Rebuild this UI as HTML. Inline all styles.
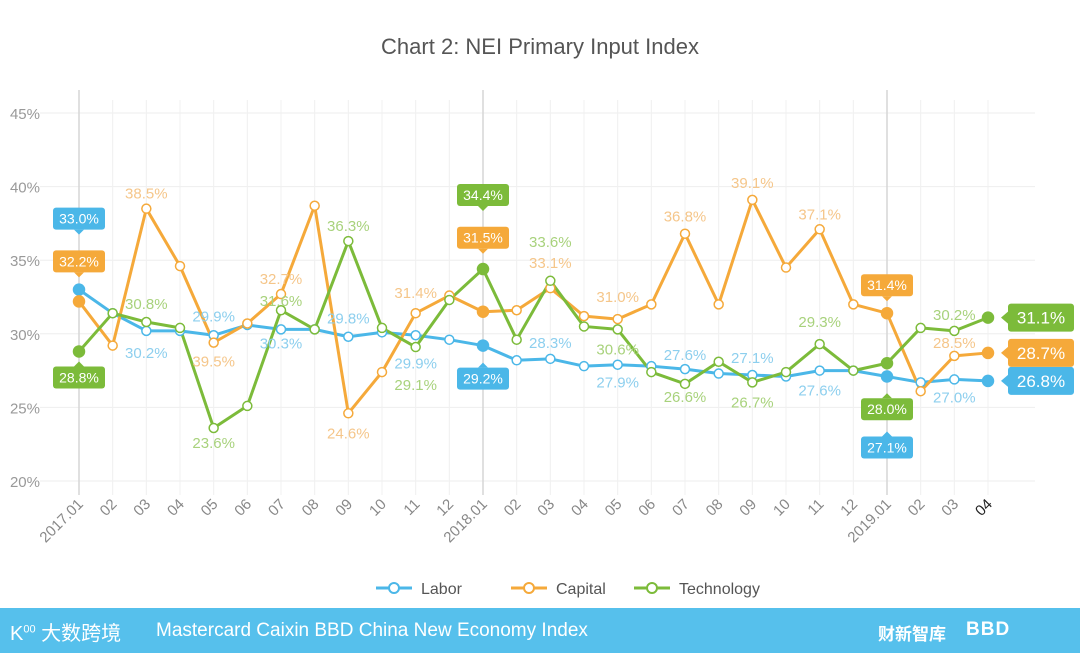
<!DOCTYPE html>
<html><head><meta charset="utf-8"><style>
body{margin:0;width:1080px;height:653px;overflow:hidden;background:#fff;font-family:"Liberation Sans","Noto Sans CJK SC",sans-serif}
#footer{position:absolute;left:0;top:608px;width:1080px;height:45px;background:#56c0ec}
</style></head><body>
<svg id="chart" width="1080" height="608" style="position:absolute;left:0;top:0">
<text x="540" y="54" text-anchor="middle" font-size="22" fill="#555">Chart 2: NEI Primary Input Index</text>
<g id="grid"></g><g id="lines"></g><g id="labels"></g><g id="legend"></g>
</svg>
<div id="footer">
<span style="position:absolute;left:10px;top:9px;color:#fff;font-size:20px">K<sup style="font-size:11px">00</sup> 大数跨境</span>
<span style="position:absolute;left:156px;top:12px;color:#fff;font-size:19px">Mastercard Caixin BBD China New Economy Index</span>
<span style="position:absolute;left:878px;top:12px;color:#fff;font-size:17px;font-weight:bold">财新智库</span>
<span style="position:absolute;left:966px;top:11px;color:#fff;font-size:19px;font-weight:bold;letter-spacing:1px">BBD</span>
</div>
<script>
const categories=["2017.01","02","03","04","05","06","07","08","09","10","11","12","2018.01","02","03","04","05","06","07","08","09","10","11","12","2019.01","02","03","04"];
const yTicks=[20,25,30,35,40,45];
const labor=[33.0,31.4,30.2,30.2,29.9,30.6,30.3,30.3,29.8,30.1,29.9,29.6,29.2,28.2,28.3,27.8,27.9,27.8,27.6,27.3,27.2,27.1,27.5,27.5,27.1,26.7,26.9,26.8];
const capital=[32.2,29.2,38.5,34.6,29.4,30.7,32.7,38.7,24.6,27.4,31.4,32.6,31.5,31.6,33.1,31.2,31.0,32.0,36.8,32.0,39.1,34.5,37.1,32.0,31.4,26.1,28.5,28.7];
const technology=[28.8,31.4,30.8,30.4,23.6,25.1,31.6,30.3,36.3,30.4,29.1,32.3,34.4,29.6,33.6,30.5,30.3,27.4,26.6,28.1,26.7,27.4,29.3,27.5,28.0,30.4,30.2,31.1];
const laborLabels=[[2,"30.2%",22],[4,"29.9%",-19],[6,"30.3%",14],[8,"29.8%",-18],[10,"29.9%",28],[14,"28.3%",-16],[16,"27.9%",18],[18,"27.6%",-14],[20,"27.1%",-17],[22,"27.6%",20],[26,"27.0%",18]];
const capitalLabels=[[2,"38.5%",-15],[4,"39.5%",19],[6,"32.7%",-15],[8,"24.6%",20],[10,"31.4%",-20],[14,"33.1%",-25],[16,"31.0%",-22],[18,"36.8%",-17],[20,"39.1%",-17],[22,"37.1%",-15],[26,"28.5%",-13]];
const techLabels=[[2,"30.8%",-18],[4,"23.6%",15],[6,"31.6%",-9],[8,"36.3%",-15],[10,"29.1%",38],[14,"33.6%",-39],[16,"30.6%",20],[18,"26.6%",13],[20,"26.7%",20],[22,"29.3%",-22],[26,"30.2%",-16]];
const NS="http://www.w3.org/2000/svg";
const X=i=>79+i*(404/12);
const Y=v=>481-(v-20)*14.72;
function mk(p,t,a){const e=document.createElementNS(NS,t);for(const k in a)e.setAttribute(k,a[k]);p.appendChild(e);return e;}
const grid=document.getElementById('grid'),lines=document.getElementById('lines'),labs=document.getElementById('labels'),leg=document.getElementById('legend');
yTicks.forEach(t=>{
 const l=mk(grid,'line',{x1:40,x2:1035,y1:Y(t),y2:Y(t),stroke:'#eeeeee'});
 
 
 const tx=mk(grid,'text',{x:40,y:Y(t)+6,'text-anchor':'end','font-size':15,fill:'#999'});
 tx.textContent=t+'%';
 
 
});
categories.forEach((c,i)=>{
 const major=c.indexOf('.')>0;
 const l=mk(grid,'line',{x1:X(i),x2:X(i),y1:major?90:100,y2:495,stroke:major?'#d6d6d6':'#f0f0f0','stroke-width':major?1.5:1});
 
 
 const tx=mk(grid,'text',{x:X(i)+5,y:505,'text-anchor':'end','font-size':15,fill:i==categories.length-1?'#222':'#888',transform:`rotate(-45 ${X(i)+5} 505)`});
 tx.textContent=c;
 
 
});
const series=[["labor",labor,"#4bb7e8","#8dcfee",laborLabels],["capital",capital,"#f5a93a","#f5c68a",capitalLabels],["technology",technology,"#7cbb3a","#a8d27c",techLabels]];
const filled=[0,12,24,27];
series.forEach(([nm,d,col,lc,lbl])=>{
 const pl=mk(lines,'polyline',{points:d.map((v,i)=>X(i)+','+Y(v)).join(' '),fill:'none',stroke:col,'stroke-width':3,'stroke-linejoin':'round'});
 
 
});
series.forEach(([nm,d,col,lc,lbl])=>{
 d.forEach((v,i)=>{
  const f=filled.includes(i);
  const c=mk(lines,'circle',{cx:X(i),cy:Y(v),r:f?5.5:4.5,fill:f?col:'#fff',stroke:f?col:col,'stroke-width':1.5});
  
  
 });
 lbl.forEach(([i,t,dy])=>{
  const tx=mk(labs,'text',{x:X(i),y:Y(d[i])+dy+5,'text-anchor':'middle','font-size':15,fill:lc});
  tx.textContent=t;
  
  
 });
});
// callout boxes at year starts: [series data, index, color, centerY offset]
const callouts=[[labor,0,"#4bb7e8",-71],[capital,0,"#f5a93a",-40],[technology,0,"#7cbb3a",26],[technology,12,"#7cbb3a",-74],[capital,12,"#f5a93a",-74],[labor,12,"#4bb7e8",33],[capital,24,"#f5a93a",-28],[technology,24,"#7cbb3a",46],[labor,24,"#4bb7e8",71]];
callouts.forEach(([d,i,col,off])=>{
 const cy=Y(d[i])+off,x=X(i);
 const g=mk(labs,'g',{});
 
 
 mk(g,'rect',{x:x-26,y:cy-11,width:52,height:22,rx:3,fill:col});
 const up=off<0;
 mk(g,'path',{d:up?`M${x-5},${cy+11}L${x},${cy+16}L${x+5},${cy+11}Z`:`M${x-5},${cy-11}L${x},${cy-16}L${x+5},${cy-11}Z`,fill:col});
 const t=mk(g,'text',{x:x,y:cy+5,'text-anchor':'middle','font-size':14,fill:'#fff'});
 t.textContent=d[i].toFixed(1)+'%';
});
series.forEach(([nm,d,col])=>{
 const last=d.length-1,cy=Y(d[last]),x=1008;
 const g=mk(labs,'g',{});
 
 
 mk(g,'rect',{x:x,y:cy-14,width:66,height:28,rx:3,fill:col});
 mk(g,'path',{d:`M${x},${cy-6}L${x-7},${cy}L${x},${cy+6}Z`,fill:col});
 const t=mk(g,'text',{x:x+33,y:cy+6,'text-anchor':'middle','font-size':17,fill:'#fff'});
 t.textContent=d[last].toFixed(1)+'%';
});
[["Labor",376,"#4bb7e8"],["Capital",511,"#f5a93a"],["Technology",634,"#7cbb3a"]].forEach(([n,x,col])=>{
 const g=mk(leg,'g',{});
 
 
 mk(g,'line',{x1:x,x2:x+36,y1:588,y2:588,stroke:col,'stroke-width':3});
 mk(g,'circle',{cx:x+18,cy:588,r:5,fill:'#fff',stroke:col,'stroke-width':2});
 const t=mk(g,'text',{x:x+45,y:594,'font-size':16,fill:'#555'});
 t.textContent=n;
});
</script>
</body></html>
